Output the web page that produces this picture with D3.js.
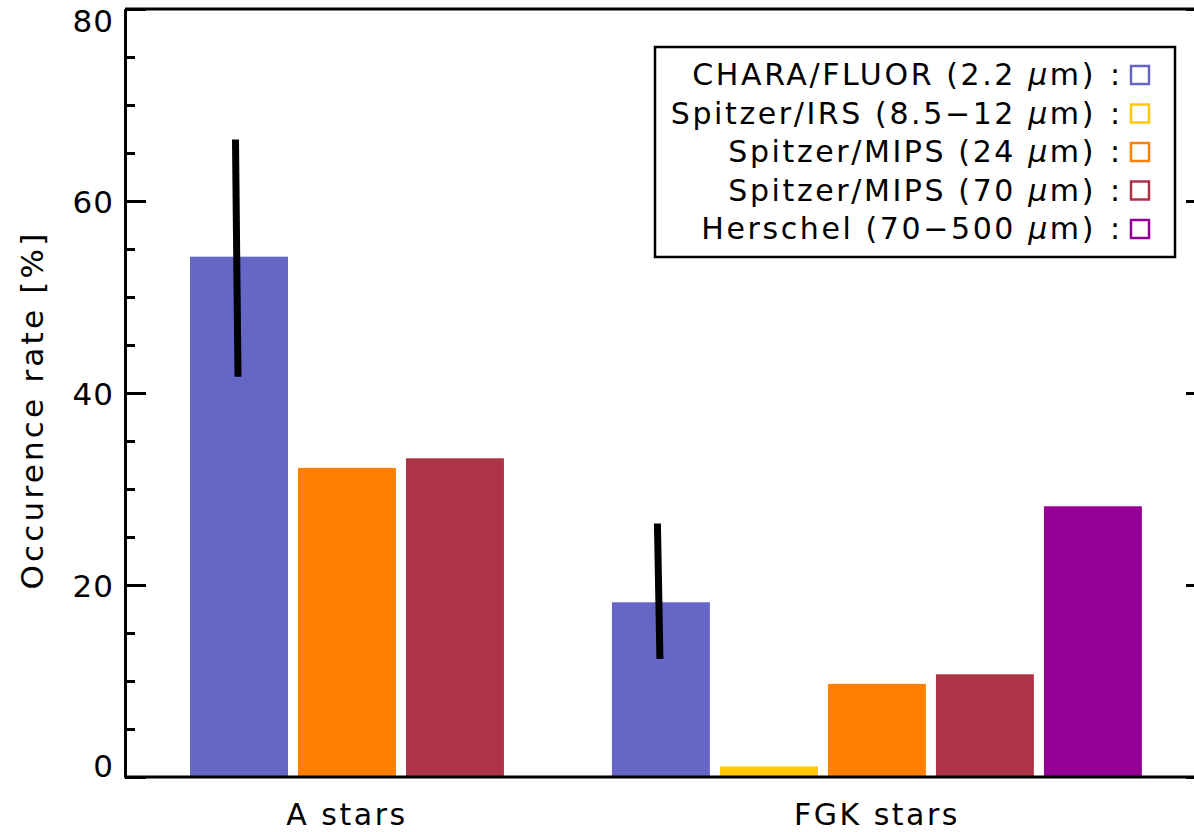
<!DOCTYPE html>
<html>
<head>
<meta charset="utf-8">
<script src="https://cdn.jsdelivr.net/npm/d3@7"></script>
<style>
  body { margin: 0; background: #fff; }
  svg { display: block; font-family: "DejaVu Sans", sans-serif; }
</style>
</head>
<body>
<div id="chart"></div>
<script>
// data
const categories = ["A stars", "FGK stars"];
const seriesLabels = [
  "CHARA/FLUOR (2.2 μm)",
  "Spitzer/IRS (8.5−12 μm)",
  "Spitzer/MIPS (24 μm)",
  "Spitzer/MIPS (70 μm)",
  "Herschel (70−500 μm)"
];
const seriesColors = ["#6666c6", "#ffc800", "#ff8000", "#af3348", "#940094"];
// occurrence rate per category, one entry per series (null = not measured)
const aStars = [54.2, null, 32.2, 33.2, null];
const fgkStars = [18.2, 1.1, 9.7, 10.7, 28.2];
// error range on the CHARA/FLUOR bars
const errLow = [41.7, 12.3];
const errHigh = [66.4, 26.4];
const yMajor = [0, 20, 40, 60, 80];
const yMinor = d3.range(0, 81, 5).filter(v => v % 20 !== 0);

const width = 1194, height = 832;
const mLeft = 125, mRight = 1207, mTop = 9, mBottom = 777;

const BAR = 0.907, GAP = 0.093, GROUP_GAP = 1.0;

const svg = d3.select("#chart").append("svg")
  .attr("width", width)
  .attr("height", height);

const x = d3.scaleLinear().domain([-0.602, 9.417]).range([mLeft, mRight]);
const y = d3.scaleLinear().domain([0, 80]).range([mBottom, mTop]);

// lay the bars out group by group
const values = [aStars, fgkStars];
const bars = [], errs = [], centers = [];
let pos = 0;
values.forEach((vals, gi) => {
  const start = pos;
  vals.forEach((v, si) => {
    if (v == null) return;
    bars.push({ gi, si, v, x0: pos });
    if (si === 0) errs.push({ lo: errLow[gi], hi: errHigh[gi], xc: pos + BAR / 2 });
    pos += BAR + GAP;
  });
  centers.push((start + pos - GAP) / 2);
  pos += GROUP_GAP - GAP;
});

svg.append("g").selectAll("rect")
  .data(bars)
  .enter().append("rect")
  .attr("x", d => x(d.x0))
  .attr("width", d => x(d.x0 + BAR) - x(d.x0))
  .attr("y", d => y(d.v))
  .attr("height", d => y(0) - y(d.v))
  .attr("fill", d => seriesColors[d.si]);

svg.append("g").selectAll("line")
  .data(errs)
  .enter().append("line")
  .attr("x1", d => x(d.xc) - 3.5)
  .attr("x2", d => x(d.xc) - 1)
  .attr("y1", d => y(d.hi))
  .attr("y2", d => y(d.lo))
  .attr("stroke", "#000")
  .attr("stroke-width", 7);

// axes: ticks point inward like the original
function styleAxis(g) {
  g.selectAll("path, line").attr("stroke", "#000").attr("stroke-width", 3);
}

svg.append("g")
  .attr("transform", `translate(${mLeft},0)`)
  .call(d3.axisRight(y).tickValues(yMajor).tickSize(21).tickSizeOuter(0).tickFormat(""))
  .call(styleAxis);
svg.append("g")
  .attr("transform", `translate(${mLeft},0)`)
  .call(d3.axisRight(y).tickValues(yMinor).tickSize(10).tickSizeOuter(0).tickFormat(""))
  .call(styleAxis);
svg.append("g")
  .attr("transform", `translate(${mRight},0)`)
  .call(d3.axisLeft(y).tickValues(yMajor).tickSize(21).tickSizeOuter(0).tickFormat(""))
  .call(styleAxis);
svg.append("g")
  .attr("transform", `translate(${mRight},0)`)
  .call(d3.axisLeft(y).tickValues(yMinor).tickSize(10).tickSizeOuter(0).tickFormat(""))
  .call(styleAxis);

svg.append("line")
  .attr("x1", mLeft).attr("x2", mRight).attr("y1", mTop).attr("y2", mTop)
  .attr("stroke", "#000").attr("stroke-width", 3);
svg.append("line")
  .attr("x1", mLeft).attr("x2", mRight).attr("y1", mBottom).attr("y2", mBottom)
  .attr("stroke", "#000").attr("stroke-width", 3);

// tick labels (end ones pulled inside the frame)
svg.append("g").selectAll("text")
  .data(yMajor)
  .enter().append("text")
  .attr("x", mLeft - 11)
  .attr("y", d => y(d) + (d === 80 ? 23 : d === 0 ? 0 : 12))
  .attr("text-anchor", "end")
  .style("font-size", "31px")
  .style("letter-spacing", "1px")
  .text(d => d);

svg.append("g").selectAll("text")
  .data(categories)
  .enter().append("text")
  .attr("x", (d, i) => x(centers[i]))
  .attr("y", 825)
  .attr("text-anchor", "middle")
  .style("font-size", "30px")
  .style("letter-spacing", "2.5px")
  .text(d => d);

svg.append("text")
  .attr("transform", "translate(43,410) rotate(-90)")
  .attr("text-anchor", "middle")
  .style("font-size", "31px")
  .style("letter-spacing", "3.2px")
  .text("Occurence rate [%]");

// legend
const legend = svg.append("g");
legend.append("rect")
  .attr("x", 655).attr("y", 47).attr("width", 520).attr("height", 210)
  .attr("fill", "#fff").attr("stroke", "#000").attr("stroke-width", 2.5);

const rows = legend.selectAll("g.row")
  .data(seriesLabels)
  .enter().append("g")
  .attr("class", "row")
  .attr("transform", (d, i) => `translate(0,${85 + i * 38.5})`);

rows.append("text")
  .attr("x", 1096)
  .attr("text-anchor", "end")
  .style("font-size", "30px")
  .style("letter-spacing", "2.6px")
  .each(function(d) {
    const parts = d.split("μ");
    const t = d3.select(this);
    t.append("tspan").text(parts[0]);
    t.append("tspan").style("font-style", "italic").text("μ");
    t.append("tspan").text(parts[1]);
  });

rows.append("text")
  .attr("x", 1115)
  .attr("text-anchor", "middle")
  .style("font-size", "30px")
  .text(":");

rows.append("rect")
  .attr("x", 1131).attr("y", -19)
  .attr("width", 18).attr("height", 18)
  .attr("fill", "none")
  .attr("stroke", (d, i) => seriesColors[i])
  .attr("stroke-width", 2.5);
</script>
</body>
</html>
